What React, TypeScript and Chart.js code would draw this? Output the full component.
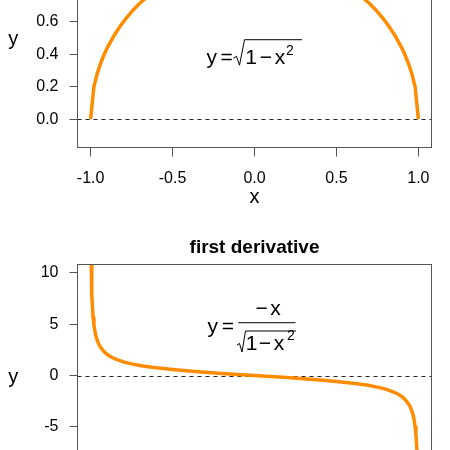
import React, { useEffect, useRef } from 'react';
import { Chart, registerables } from 'chart.js';

Chart.register(...registerables);

const FONT = '"Liberation Sans", Arial, Helvetica, sans-serif';
const ORANGE = '#FF8C00';
const FRAME = '#555555';

// x ticks shown on the top panel
const X_TICKS = [-1, -0.5, 0, 0.5, 1];

// top panel: y = sqrt(1 - x^2)
const circleX = [-1, -0.98, -0.96, -0.94, -0.92, -0.9, -0.86, -0.82, -0.78, -0.74, -0.7, -0.6, -0.5, -0.4, -0.3, -0.2, -0.1, 0, 0.1, 0.2, 0.3, 0.4, 0.5, 0.6, 0.7, 0.74, 0.78, 0.82, 0.86, 0.9, 0.92, 0.94, 0.96, 0.98, 1];
const circleY = [0, 0.199, 0.28, 0.341, 0.392, 0.436, 0.51, 0.572, 0.626, 0.673, 0.714, 0.8, 0.866, 0.917, 0.954, 0.98, 0.995, 1, 0.995, 0.98, 0.954, 0.917, 0.866, 0.8, 0.714, 0.673, 0.626, 0.572, 0.51, 0.436, 0.392, 0.341, 0.28, 0.199, 0];

// bottom panel: first derivative
const derivX = [-0.998, -0.996, -0.994, -0.992, -0.99, -0.985, -0.98, -0.97, -0.96, -0.95, -0.94, -0.92, -0.9, -0.88, -0.85, -0.8, -0.75, -0.7, -0.65, -0.6, -0.5, -0.4, -0.3, -0.2, -0.1, 0, 0.1, 0.2, 0.3, 0.4, 0.5, 0.6, 0.65, 0.7, 0.75, 0.8, 0.85, 0.88, 0.9, 0.92, 0.94, 0.95, 0.96, 0.97, 0.98, 0.985, 0.99, 0.992, 0.994, 0.996, 0.998];
const derivY = [15.79, 11.15, 9.09, 7.86, 7.02, 5.71, 4.92, 3.99, 3.43, 3.04, 2.76, 2.35, 2.06, 1.85, 1.61, 1.33, 1.13, 0.98, 0.86, 0.75, 0.58, 0.44, 0.31, 0.2, 0.1, 0, -0.1, -0.2, -0.31, -0.44, -0.58, -0.75, -0.86, -0.98, -1.13, -1.33, -1.61, -1.85, -2.06, -2.35, -2.76, -3.04, -3.43, -3.99, -4.92, -5.71, -7.02, -7.86, -9.09, -11.15, -15.79];

const TOP_Y_RANGE = [-0.175, 1.178];
const BOT_Y_RANGE = [-10.8, 10.8];
const X_RANGE = [-1.08, 1.08];

function pts(xs: number[], ys: number[]) {
  return xs.map((x, i) => ({ x, y: ys[i] }));
}

function txt(ctx: CanvasRenderingContext2D, s: string, x: number, y: number, size: number, bold = false, align: CanvasTextAlign = 'center') {
  ctx.font = `${bold ? 'bold ' : ''}${size}px ${FONT}`;
  ctx.textAlign = align;
  ctx.textBaseline = 'alphabetic';
  ctx.fillStyle = '#000';
  ctx.fillText(s, x, y);
}

function poly(ctx: CanvasRenderingContext2D, cx: number, cy: number, p: number[][]) {
  ctx.save();
  ctx.strokeStyle = '#000';
  ctx.lineWidth = 1;
  ctx.beginPath();
  p.forEach(([dx, dy], i) => {
    if (i === 0) ctx.moveTo(cx + dx, cy + dy);
    else ctx.lineTo(cx + dx, cy + dy);
  });
  ctx.stroke();
  ctx.restore();
}

function fmtNum(v: number, d: number) {
  const n = Math.abs(v) < 1e-9 ? 0 : v;
  return n.toFixed(d);
}

function panelPlugin(id: string, extra: (ctx: CanvasRenderingContext2D, chart: any) => void) {
  return {
    id,
    beforeDatasetsDraw(chart: any) {
      const { ctx, chartArea: a } = chart;
      const yy = Math.round(chart.scales.y.getPixelForValue(0)) + 0.5;
      ctx.save();
      ctx.strokeStyle = '#222';
      ctx.lineWidth = 1;
      ctx.setLineDash([4, 4]);
      ctx.beginPath();
      ctx.moveTo(a.left, yy);
      ctx.lineTo(a.right, yy);
      ctx.stroke();
      ctx.restore();
    },
    afterDraw(chart: any) {
      const { ctx, chartArea: a } = chart;
      ctx.save();
      ctx.strokeStyle = FRAME;
      ctx.lineWidth = 1;
      ctx.strokeRect(a.left, a.top, a.right - a.left, a.bottom - a.top);
      ctx.restore();
      // y axis label (horizontal)
      txt(ctx, 'y', 13.3, (a.top + a.bottom) / 2 + 7.3, 20);
      extra(ctx, chart);
    },
  };
}

function baseOptions(yRange: number[], yStep: number, yFmt: (v: number) => string, padTop: number, xAxisHeight: number) {
  return {
    animation: false,
    responsive: false,
    maintainAspectRatio: false,
    events: [],
    layout: { padding: { top: padTop, right: 18.5, left: 0, bottom: 0 } },
    plugins: { legend: { display: false }, tooltip: { enabled: false }, title: { display: false } },
    scales: {
      x: {
        type: 'linear',
        position: 'bottom',
        min: X_RANGE[0],
        max: X_RANGE[1],
        afterFit: (s: any) => { s.height = xAxisHeight; s.paddingLeft = 0; s.paddingRight = 0; s.paddingTop = 0; s.paddingBottom = 0; },
        afterBuildTicks: (s: any) => { s.ticks = X_TICKS.map((v) => ({ value: v })); },
        border: { display: false },
        grid: { drawOnChartArea: false, drawTicks: true, tickLength: 9, tickColor: FRAME, tickWidth: 1 },
        ticks: {
          autoSkip: false, maxRotation: 0, minRotation: 0, padding: 12, color: '#000',
          font: { family: FONT, size: 16 },
          callback: (v: any) => fmtNum(Number(v), 1),
        },
      },
      y: {
        type: 'linear',
        min: yRange[0],
        max: yRange[1],
        afterFit: (s: any) => { s.width = 77.5; s.paddingTop = 0; s.paddingBottom = 0; s.paddingLeft = 0; s.paddingRight = 0; },
        border: { display: false },
        grid: { drawOnChartArea: false, drawTicks: true, tickLength: 8, tickColor: FRAME, tickWidth: 1 },
        ticks: {
          stepSize: yStep, includeBounds: false, autoSkip: false, padding: 11, color: '#000',
          font: { family: FONT, size: 16 },
          callback: (v: any) => yFmt(Number(v)),
        },
      },
    },
  };
}

export default function App() {
  const ref1 = useRef<HTMLCanvasElement>(null);
  const ref2 = useRef<HTMLCanvasElement>(null);

  useEffect(() => {
    const topExtra = (ctx: CanvasRenderingContext2D, chart: any) => {
      const a = chart.chartArea;
      const cx = chart.scales.x.getPixelForValue(0);
      const cy = chart.scales.y.getPixelForValue(0.4);
      // x axis title
      txt(ctx, 'x', (a.left + a.right) / 2, a.bottom + 55.8, 20);
      // formula y = sqrt(1 - x^2)
      txt(ctx, 'y', cx - 42.8, cy + 9.5, 21);
      txt(ctx, '=', cx - 27.8, cy + 9.5, 21);
      poly(ctx, cx, cy, [[-21, 4], [-18, 2], [-15, 11], [-10, -14.5], [47.5, -14.5]]);
      txt(ctx, '1', cx - 3.5, cy + 9.3, 21);
      txt(ctx, '\u2212', cx + 11.5, cy + 9.3, 21);
      txt(ctx, 'x', cx + 25.5, cy + 9.3, 21);
      txt(ctx, '2', cx + 35.5, cy + 1, 14);
    };

    const botExtra = (ctx: CanvasRenderingContext2D, chart: any) => {
      const a = chart.chartArea;
      const cx = chart.scales.x.getPixelForValue(0);
      const cy = chart.scales.y.getPixelForValue(5);
      txt(ctx, 'first derivative', (a.left + a.right) / 2, a.top - 11.5, 19, true);
      txt(ctx, 'y', cx - 41.8, cy + 8.4, 21);
      txt(ctx, '=', cx - 26.5, cy + 8.4, 21);
      poly(ctx, cx, cy, [[-16.2, -1.4], [41, -1.4]]);
      txt(ctx, '\u2212', cx + 7.2, cy - 9.1, 21);
      txt(ctx, 'x', cx + 21, cy - 9.1, 21);
      poly(ctx, cx, cy, [[-17.5, 20.9], [-15, 19.4], [-12.5, 27.9], [-9, 6.9], [41.5, 6.9]]);
      txt(ctx, '1', cx - 2.8, cy + 25.9, 21);
      txt(ctx, '\u2212', cx + 10.5, cy + 25.9, 21);
      txt(ctx, 'x', cx + 24.5, cy + 25.9, 21);
      txt(ctx, '2', cx + 36.5, cy + 15.9, 14);
    };

    const c1 = new Chart(ref1.current as HTMLCanvasElement, {
      type: 'line',
      data: {
        datasets: [{
          data: pts(circleX, circleY), borderColor: ORANGE, borderWidth: 3.5,
          pointRadius: 0, tension: 0, fill: false, clip: 0,
        }],
      },
      options: baseOptions(TOP_Y_RANGE, 0.2, (v) => fmtNum(v, 1), 8, 72.5) as any,
      plugins: [panelPlugin('panelTop', topExtra)],
    } as any);

    const c2 = new Chart(ref2.current as HTMLCanvasElement, {
      type: 'line',
      data: {
        datasets: [{
          data: pts(derivX, derivY), borderColor: ORANGE, borderWidth: 3.5,
          pointRadius: 0, tension: 0, fill: false, clip: 0,
        }],
      },
      options: baseOptions(BOT_Y_RANGE, 5, (v) => fmtNum(v, 0), 64.5, 43.5) as any,
      plugins: [panelPlugin('panelBot', botExtra)],
    } as any);

    return () => { c1.destroy(); c2.destroy(); };
  }, []);

  return (
    <div style={{ position: 'fixed', left: 0, top: 0, width: 450, height: 450, overflow: 'hidden', background: '#fff' }}>
      <canvas ref={ref1} width={450} height={300} style={{ position: 'absolute', left: 0, top: -80, width: 450, height: 300 }} />
      <canvas ref={ref2} width={450} height={330} style={{ position: 'absolute', left: 0, top: 200, width: 450, height: 330 }} />
    </div>
  );
}
